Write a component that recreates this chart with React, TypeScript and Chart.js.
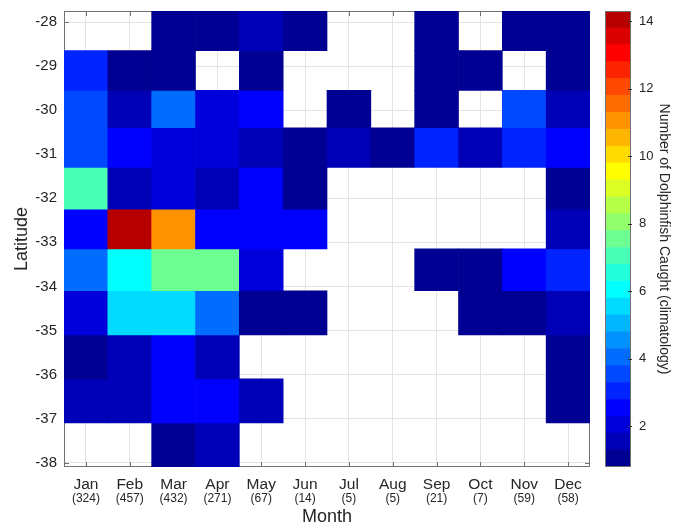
import React, { useEffect, useRef } from 'react';
import { Chart, registerables } from 'chart.js';

Chart.register(...registerables);

// ---------- data ----------
const months = ['Jan', 'Feb', 'Mar', 'Apr', 'May', 'Jun', 'Jul', 'Aug', 'Sep', 'Oct', 'Nov', 'Dec'];
const monthCounts = ['(324)', '(457)', '(432)', '(271)', '(67)', '(14)', '(5)', '(5)', '(21)', '(7)', '(59)', '(58)'];
const latTicks = [-28, -29, -30, -31, -32, -33, -34, -35, -36, -37, -38];
// latitude bin edges (top to bottom), one row of cells between consecutive edges
const latEdges = [-27.75, -28.65, -29.55, -30.4, -31.3, -32.25, -33.15, -34.1, -35.1, -36.1, -37.1, -38.1];

// number caught per month (Jan..Dec) for each latitude bin; null = no data
const row28 = [null, null, 1.0, 1.0, 1.5, 1.0, null, null, 1.0, null, 1.0, 1.0];
const row29 = [3.0, 1.0, 1.0, null, 1.0, null, null, null, 1.0, 1.0, null, 1.0];
const row30 = [3.5, 1.5, 4.0, 2.0, 2.5, null, 1.0, null, 1.0, null, 3.5, 1.5];
const row31 = [3.5, 2.5, 2.0, 2.0, 1.5, 1.0, 1.5, 1.0, 3.0, 1.5, 3.0, 2.5];
const row32 = [7.0, 1.5, 2.0, 1.5, 2.5, 1.0, null, null, null, null, null, 1.0];
const row33 = [2.5, 14.0, 11.0, 2.5, 2.5, 2.5, null, null, null, null, null, 1.5];
const row34 = [4.0, 6.0, 7.5, 7.5, 2.0, null, null, null, 1.0, 1.0, 2.5, 3.0];
const row35 = [2.0, 5.5, 5.5, 4.0, 1.0, 1.0, null, null, null, 1.0, 1.0, 1.5];
const row36 = [1.0, 1.5, 2.5, 1.5, null, null, null, null, null, null, null, 1.0];
const row37 = [1.5, 1.5, 2.5, 2.5, 1.5, null, null, null, null, null, null, 1.0];
const row38 = [null, null, 1.0, 1.5, null, null, null, null, null, null, null, null];
const rows = [row28, row29, row30, row31, row32, row33, row34, row35, row36, row37, row38];

// colour scale
const cbMin = 0.8;
const cbMax = 14.3;
const cbLevelCount = 27;
const cbTicks = [2, 4, 6, 8, 10, 12, 14];

// ---------- styling ----------
const FONT = "'Liberation Sans', Arial, Helvetica, sans-serif";
const TEXT = '#262626';
const GRID = '#e4e4e4';
const BOX = '#707070';

// MATLAB-style jet(m) colormap
function jetMap(m: number): string[] {
  const n = Math.ceil(m / 4);
  const u: number[] = [];
  for (let i = 1; i <= n; i++) u.push(i / n);
  for (let i = 1; i < n; i++) u.push(1);
  for (let i = n; i >= 1; i--) u.push(i / n);
  const gOff = Math.ceil(n / 2) - (m % 4 === 1 ? 1 : 0);
  const R = new Array(m).fill(0);
  const G = new Array(m).fill(0);
  const B = new Array(m).fill(0);
  u.forEach((val, j) => {
    const g = gOff + j; // zero-based row index for green
    const r = g + n;
    const b = g - n;
    if (g >= 0 && g < m) G[g] = val;
    if (r >= 0 && r < m) R[r] = val;
    if (b >= 0 && b < m) B[b] = val;
  });
  return R.map((_, i) => `rgb(${Math.round(R[i] * 255)},${Math.round(G[i] * 255)},${Math.round(B[i] * 255)})`);
}

const JET = jetMap(cbLevelCount);
const cbStep = (cbMax - cbMin) / cbLevelCount;

function colorFor(v: number): string {
  let k = Math.floor((v - cbMin) / cbStep + 1e-9);
  k = Math.max(0, Math.min(cbLevelCount - 1, k));
  return JET[k];
}

const noLabelClip = (s: any) => {
  s._computeLabelArea = () => undefined;
};

const mainBoxPlugin = {
  id: 'mainBox',
  beforeDatasetsDraw(chart: any) {
    const { ctx, chartArea: a, scales } = chart;
    ctx.save();
    ctx.strokeStyle = BOX;
    ctx.lineWidth = 1;
    ctx.strokeRect(a.left + 0.5, a.top + 0.5, a.right - a.left - 1, a.bottom - a.top - 1);
    const tl = 5;
    ctx.beginPath();
    scales.x.ticks.forEach((_: any, i: number) => {
      const px = Math.round(scales.x.getPixelForTick(i)) + 0.5;
      ctx.moveTo(px, a.bottom);
      ctx.lineTo(px, a.bottom - tl);
      ctx.moveTo(px, a.top);
      ctx.lineTo(px, a.top + tl);
    });
    scales.y.ticks.forEach((t: any) => {
      const py = Math.round(scales.y.getPixelForValue(t.value)) + 0.5;
      ctx.moveTo(a.left, py);
      ctx.lineTo(a.left + tl, py);
      ctx.moveTo(a.right, py);
      ctx.lineTo(a.right - tl, py);
    });
    ctx.stroke();
    ctx.restore();
  },
};

const cbBoxPlugin = {
  id: 'cbBox',
  afterDatasetsDraw(chart: any) {
    const { ctx, chartArea: a, scales } = chart;
    ctx.save();
    ctx.strokeStyle = BOX;
    ctx.lineWidth = 1;
    ctx.strokeRect(a.left + 0.5, a.top + 0.5, a.right - a.left - 1, a.bottom - a.top - 1);
    ctx.strokeStyle = '#333';
    ctx.beginPath();
    scales.y.ticks.forEach((t: any) => {
      const py = Math.round(scales.y.getPixelForValue(t.value)) + 0.5;
      ctx.moveTo(a.right - 3, py);
      ctx.lineTo(a.right + 1, py);
    });
    ctx.stroke();
    ctx.restore();
  },
};

export default function App() {
  const mainRef = useRef<HTMLCanvasElement | null>(null);
  const cbRef = useRef<HTMLCanvasElement | null>(null);

  useEffect(() => {
    const datasets = rows.map((row, r) => ({
      data: row.map((v) => (v == null ? null : [latEdges[r + 1], latEdges[r]])),
      backgroundColor: row.map((v) => (v == null ? 'rgba(0,0,0,0)' : colorFor(v))),
      borderWidth: 0,
      grouped: false,
      barPercentage: 1,
      categoryPercentage: 1,
    }));

    const main = new Chart(mainRef.current as HTMLCanvasElement, {
      type: 'bar',
      data: { labels: months, datasets: datasets as any },
      options: {
        responsive: false,
        devicePixelRatio: 1,
        animation: false,
        layout: { padding: { left: 0, right: 10, top: 11, bottom: 0 } },
        plugins: { legend: { display: false }, tooltip: { enabled: false } },
        scales: {
          x: {
            type: 'category',
            labels: months,
            offset: true,
            grid: { display: true, offset: false, color: GRID, drawTicks: false },
            border: { display: false },
            ticks: { font: { family: FONT, size: 15.5 }, color: TEXT, padding: 8, maxRotation: 0, autoSkip: false },
            afterFit: (s: any) => { s.height = 22; noLabelClip(s); },
          },
          x2: {
            type: 'category',
            labels: monthCounts,
            position: 'bottom',
            weight: 1,
            offset: true,
            grid: { display: false, drawTicks: false },
            border: { display: false },
            ticks: { font: { family: FONT, size: 12 }, color: TEXT, padding: 2, maxRotation: 0, autoSkip: false },
            title: { display: true, text: 'Month', color: TEXT, font: { family: FONT, size: 18, lineHeight: 1 }, padding: { top: 0, bottom: 0 } },
            afterFit: (s: any) => { s.height = 37; noLabelClip(s); },
          },
          y: {
            type: 'linear',
            min: latEdges[latEdges.length - 1],
            max: latEdges[0],
            afterBuildTicks: (s: any) => { s.ticks = latTicks.map((v) => ({ value: v })); },
            grid: { color: GRID, drawTicks: false },
            border: { display: false },
            ticks: { font: { family: FONT, size: 15 }, color: TEXT, padding: 7, callback: (v: any) => String(v) },
            title: { display: true, text: 'Latitude', color: TEXT, font: { family: FONT, size: 18, lineHeight: 1 }, padding: { top: 13, bottom: 0 } },
            afterFit: (s: any) => { s.width = 64; s.paddingTop = 0; s.paddingBottom = 0; noLabelClip(s); },
          },
        } as any,
      },
      plugins: [mainBoxPlugin],
    });

    const cbDatasets = JET.map((col, k) => ({
      data: [[cbMin + k * cbStep, cbMin + (k + 1) * cbStep]],
      backgroundColor: col,
      borderWidth: 0,
      grouped: false,
      barPercentage: 1,
      categoryPercentage: 1,
    }));

    const cb = new Chart(cbRef.current as HTMLCanvasElement, {
      type: 'bar',
      data: { labels: [''], datasets: cbDatasets as any },
      options: {
        responsive: false,
        devicePixelRatio: 1,
        animation: false,
        layout: { padding: { left: 5, right: 0, top: 11, bottom: 59 } },
        plugins: { legend: { display: false }, tooltip: { enabled: false } },
        scales: {
          x: { type: 'category', display: false, offset: true },
          y: {
            type: 'linear',
            position: 'right',
            min: cbMin,
            max: cbMax,
            afterBuildTicks: (s: any) => { s.ticks = cbTicks.map((v) => ({ value: v })); },
            grid: { display: false, drawTicks: false },
            border: { display: false },
            ticks: { font: { family: FONT, size: 13 }, color: TEXT, padding: 8 },
            title: { display: true, text: 'Number of Dolphinfish Caught (climatology)', color: TEXT, font: { family: FONT, size: 14, lineHeight: 1 }, padding: { top: 10, bottom: 0 } },
            afterFit: (s: any) => { s.width = 50; s.paddingTop = 0; s.paddingBottom = 0; noLabelClip(s); },
          },
        } as any,
      },
      plugins: [cbBoxPlugin],
    });

    return () => {
      main.destroy();
      cb.destroy();
    };
  }, []);

  return (
    <div style={{ position: 'absolute', left: 0, top: 0, width: 681, height: 526, background: '#fff' }}>
      <canvas ref={mainRef} width={600} height={526} style={{ position: 'absolute', left: 0, top: 0, width: 600, height: 526 }} />
      <canvas ref={cbRef} width={81} height={526} style={{ position: 'absolute', left: 600, top: 0, width: 81, height: 526 }} />
    </div>
  );
}
